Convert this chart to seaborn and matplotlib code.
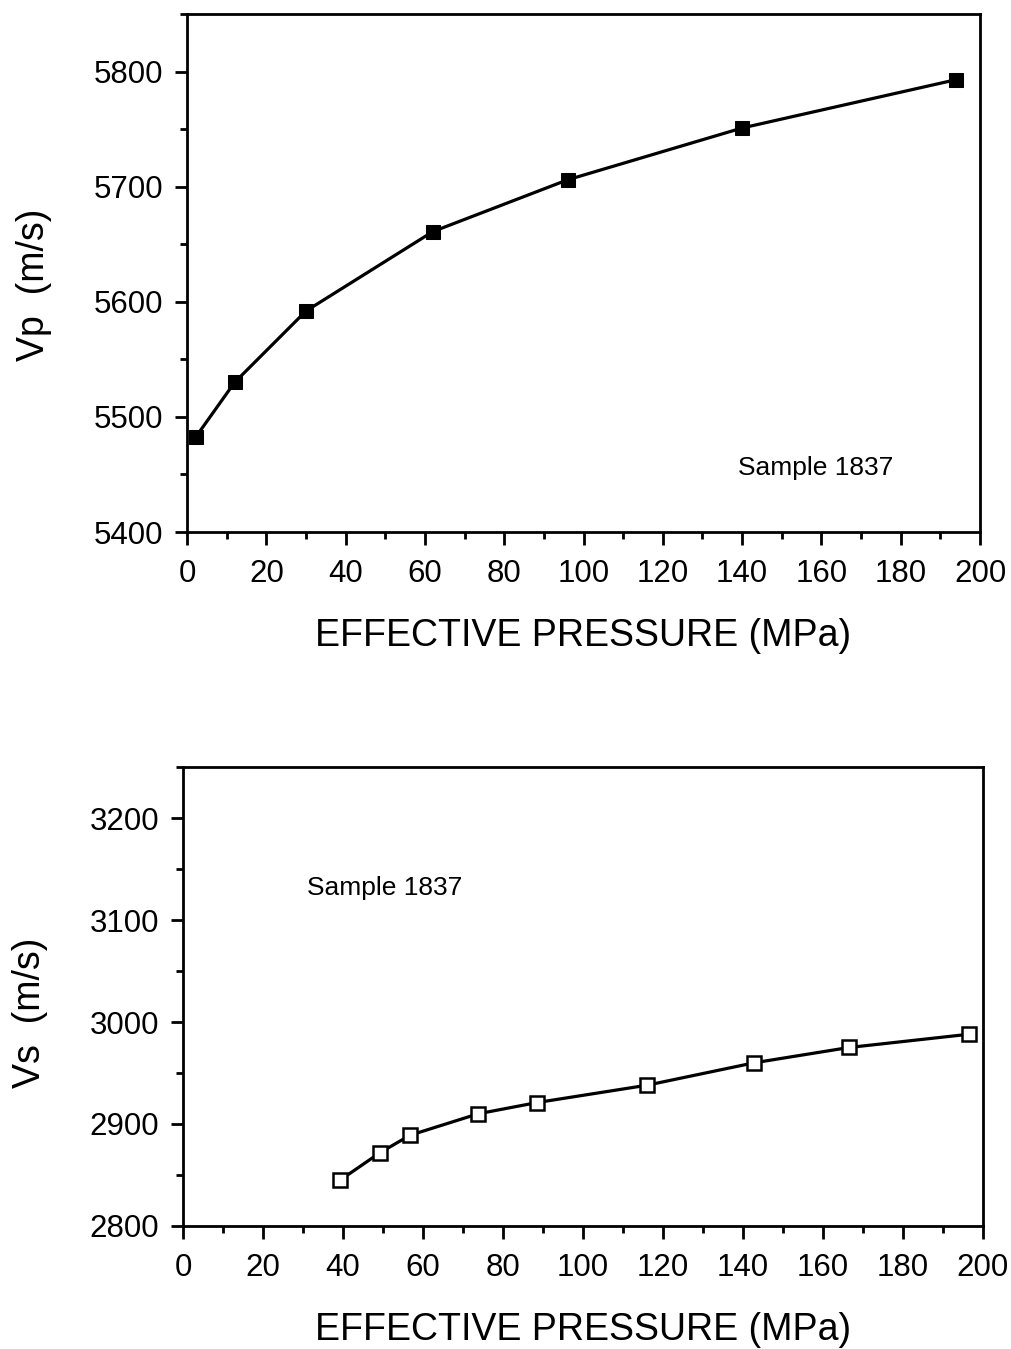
import matplotlib
matplotlib.use("Agg")
import matplotlib.pyplot as plt
import seaborn as sns
import pandas as pd
from matplotlib.ticker import MultipleLocator

# Data
vp_pressure = [2.3, 12, 30, 62, 96, 140, 194]
vp_velocity = [5483, 5530, 5592, 5661, 5706, 5751, 5793]

vs_pressure = [39.3, 49.3, 56.8, 73.8, 88.5, 116, 142.8, 166.5, 196.5]
vs_velocity = [2845, 2872, 2889, 2910, 2921, 2938, 2960, 2975, 2988]

x_label = "EFFECTIVE PRESSURE (MPa)"
vp_label = "Vp  (m/s)"
vs_label = "Vs  (m/s)"
sample_text = "Sample 1837"

sns.set_style("ticks")
plt.rcParams['font.family'] = ['Liberation Sans', 'DejaVu Sans']
plt.rcParams['text.color'] = 'black'
plt.rcParams['axes.labelcolor'] = 'black'
plt.rcParams['xtick.color'] = 'black'
plt.rcParams['ytick.color'] = 'black'

fig = plt.figure(figsize=(10.12, 13.49), dpi=100)
ax1 = fig.add_axes([0.1848, 0.6056, 0.9684 - 0.1848, 0.9896 - 0.6056])
ax2 = fig.add_axes([0.1808, 0.0912, 0.9713 - 0.1808, 0.4314 - 0.0912])

df1 = pd.DataFrame({"p": vp_pressure, "v": vp_velocity})
df2 = pd.DataFrame({"p": vs_pressure, "v": vs_velocity})

sns.lineplot(data=df1, x="p", y="v", ax=ax1, color="black", lw=2.3,
             marker="s", markersize=10, markerfacecolor="black",
             markeredgecolor="black")
sns.lineplot(data=df2, x="p", y="v", ax=ax2, color="black", lw=2.3,
             marker="s", markersize=10, markerfacecolor="white",
             markeredgecolor="black", markeredgewidth=1.8)

for ax, ylim, ylab, ycoords in [(ax1, (5400, 5850), vp_label, (-0.170, 0.477)),
                                (ax2, (2800, 3250), vs_label, (-0.169, 0.464))]:
    ax.set_xlim(0, 200)
    ax.set_ylim(*ylim)
    ax.xaxis.set_major_locator(MultipleLocator(20))
    ax.xaxis.set_minor_locator(MultipleLocator(10))
    ax.yaxis.set_major_locator(MultipleLocator(100))
    ax.yaxis.set_minor_locator(MultipleLocator(50))
    ax.tick_params(axis='both', which='major', length=9, width=2, labelsize=22.5,
                   direction='out', color='black', labelcolor='black')
    ax.tick_params(axis='x', which='major', pad=10.5)
    ax.tick_params(axis='y', which='major', pad=8)
    ax.tick_params(axis='both', which='minor', length=5, width=2, direction='out',
                   color='black')
    for s in ax.spines.values():
        s.set_linewidth(2)
        s.set_color('black')
    ax.set_xlabel(x_label, fontsize=27, labelpad=21, color='black')
    ax.set_ylabel(ylab, fontsize=27, color='black')
    ax.yaxis.set_label_coords(*ycoords)

ax1.text(139, 5456, sample_text, fontsize=19, va='center', ha='left', color='black')
ax2.text(31, 3131, sample_text, fontsize=19, va='center', ha='left', color='black')

fig.savefig("out.png", dpi=100)
